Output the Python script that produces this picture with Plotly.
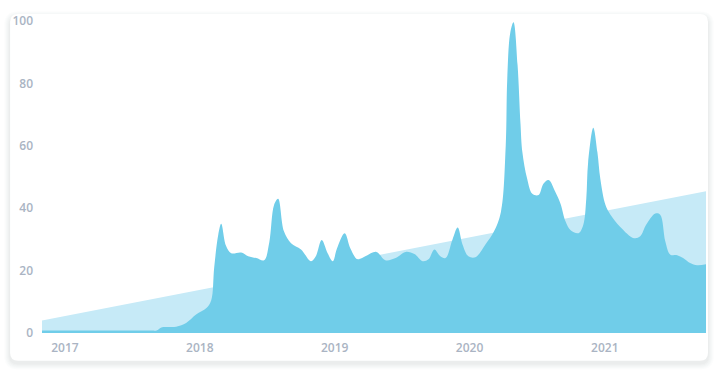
import plotly.graph_objects as go

# ---- data ----
interest_dates = [
    "2016-10-31", "2017-08-23", "2017-09-06", "2017-09-19", "2017-10-29", "2017-11-25",
    "2017-12-22", "2018-01-19", "2018-02-01", "2018-02-09", "2018-02-20", "2018-02-28",
    "2018-03-13", "2018-03-27", "2018-04-23", "2018-05-12", "2018-06-03", "2018-06-24",
    "2018-07-08", "2018-07-21", "2018-08-01", "2018-08-17", "2018-09-05", "2018-10-02",
    "2018-10-29", "2018-11-11", "2018-11-27", "2018-12-13", "2018-12-27", "2019-01-07",
    "2019-01-28", "2019-02-13", "2019-03-04", "2019-03-25", "2019-04-24", "2019-05-18",
    "2019-06-15", "2019-07-12", "2019-08-05", "2019-08-27", "2019-09-12", "2019-09-28",
    "2019-10-14", "2019-10-28", "2019-11-16", "2019-11-30", "2019-12-13", "2019-12-29",
    "2020-01-17", "2020-02-13", "2020-03-07", "2020-03-26", "2020-04-08", "2020-04-12",
    "2020-04-20", "2020-04-29", "2020-05-10", "2020-05-18", "2020-05-23", "2020-06-05",
    "2020-06-19", "2020-07-06", "2020-07-19", "2020-08-02", "2020-08-21", "2020-09-03",
    "2020-09-17", "2020-09-30", "2020-10-22", "2020-11-04", "2020-11-12", "2020-11-17",
    "2020-12-01", "2020-12-12", "2020-12-20", "2021-01-03", "2021-01-16", "2021-02-12",
    "2021-03-21", "2021-04-07", "2021-04-23", "2021-05-18", "2021-05-31", "2021-06-14",
    "2021-06-27", "2021-07-16", "2021-08-01", "2021-08-20", "2021-09-08", "2021-10-02",
]
interest_values = [
    0.8, 0.8, 0.8, 1.8, 2.0, 3.2,
    5.9, 8.0, 10.5, 21.0, 31.5, 35.0,
    28.0, 25.6, 25.8, 24.6, 24.0, 23.3,
    29.0, 41.0, 43.0, 32.5, 28.8, 26.8,
    23.0, 24.6, 29.8, 25.6, 23.0, 27.0,
    32.0, 27.0, 23.6, 24.6, 26.0, 23.3,
    24.0, 26.0, 25.3, 23.0, 23.6, 26.8,
    24.6, 24.0, 30.0, 33.8, 28.4, 24.6,
    24.3, 28.4, 32.5, 38.8, 60.0, 81.0,
    96.0, 99.6, 86.0, 67.0, 58.0, 49.4,
    44.6, 44.2, 47.8, 49.0, 45.0, 41.5,
    35.7, 33.0, 32.0, 34.7, 43.0, 54.7,
    65.8, 58.0, 49.4, 41.0, 38.0, 34.0,
    30.4, 31.0, 34.7, 38.3, 37.9, 29.3,
    25.2, 24.9, 24.0, 22.4, 21.7, 22.0,
]
trend_dates = ["2016-10-31", "2021-10-02"]
trend_values = [4.0, 45.4]
y_ticks = [0, 20, 40, 60, 80, 100]
x_ticks = ["2017-01-01", "2018-01-01", "2019-01-01", "2020-01-01", "2021-01-01"]
x_tick_labels = ["2017", "2018", "2019", "2020", "2021"]

W, H = 722, 376
ML, MR, MT, MB = 40, 16, 17, 43
PW, PH = W - ML - MR, H - MT - MB


def px_to_paper(x, y):
    return (x - ML) / PW, (H - MB - y) / PH


def rounded_rect(x0, y0, x1, y1, r):
    def P(x, y):
        a, b = px_to_paper(x, y)
        return f"{a:.5f},{b:.5f}"
    d = f"M {P(x0 + r, y0)} L {P(x1 - r, y0)} Q {P(x1, y0)} {P(x1, y0 + r)} "
    d += f"L {P(x1, y1 - r)} Q {P(x1, y1)} {P(x1 - r, y1)} "
    d += f"L {P(x0 + r, y1)} Q {P(x0, y1)} {P(x0, y1 - r)} "
    d += f"L {P(x0, y0 + r)} Q {P(x0, y0)} {P(x0 + r, y0)} Z"
    return d


shapes = []
# soft shadow
for i, a in enumerate([0.012, 0.012, 0.014, 0.016, 0.018, 0.02]):
    g = 6 - i
    shapes.append(dict(type="path", xref="paper", yref="paper", layer="below",
                       path=rounded_rect(8 - g, 10 - g + 3, 708 + g, 361 + g + 3, 8 + g),
                       fillcolor=f"rgba(40,50,70,{a})", line=dict(width=0)))
# card
shapes.append(dict(type="path", xref="paper", yref="paper", layer="below",
                   path=rounded_rect(8, 10, 708, 361, 8),
                   fillcolor="#ffffff", line=dict(width=0)))

fig = go.Figure()
fig.add_trace(go.Scatter(
    x=trend_dates, y=trend_values, mode="lines", fill="tozeroy",
    line=dict(width=0, color="#c6eaf7"), fillcolor="#c6eaf7", hoverinfo="skip",
))
fig.add_trace(go.Scatter(
    x=interest_dates, y=interest_values, mode="lines", fill="tozeroy",
    line=dict(width=0, color="#70cde9", shape="spline", smoothing=1.0),
    fillcolor="#70cde9",
))

tick_font = dict(family="Open Sans, sans-serif", size=12, color="#aab4c3", weight=600)

fig.update_layout(
    width=W, height=H,
    margin=dict(l=ML, r=MR, t=MT, b=MB),
    paper_bgcolor="#ffffff",
    plot_bgcolor="rgba(0,0,0,0)",
    showlegend=False,
    shapes=shapes,
    xaxis=dict(
        type="date", range=[interest_dates[0], interest_dates[-1]],
        tickvals=x_ticks, ticktext=x_tick_labels,
        showgrid=False, zeroline=False, showline=False, ticks="",
        tickfont=tick_font, ticklabelstandoff=6,
    ),
    yaxis=dict(
        range=[0, 100], tickvals=y_ticks,
        showgrid=False, zeroline=False, showline=False, ticks="",
        tickfont=tick_font, ticklabelstandoff=8,
    ),
)

fig.write_html("out.html")
